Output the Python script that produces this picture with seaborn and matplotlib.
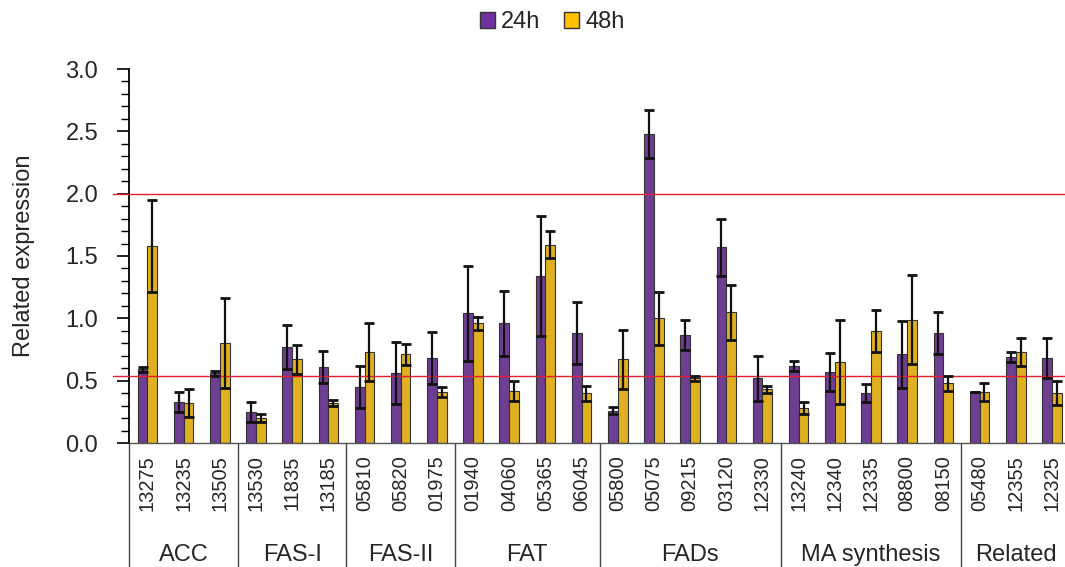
import matplotlib
matplotlib.use("Agg")
import matplotlib.pyplot as plt
import matplotlib.transforms as mtransforms
from matplotlib.patches import Patch
import numpy as np
import pandas as pd
import seaborn as sns

# ─── Data ─────────────────────────────────────────────────────────
genes = ["13275", "13235", "13505", "13530", "11835", "13185",
         "05810", "05820", "01975", "01940", "04060", "05365", "06045",
         "05800", "05075", "09215", "03120", "12330",
         "13240", "12340", "12335", "08800", "08150",
         "05480", "12355", "12325"]
groups = ["ACC", "FAS-I", "FAS-II", "FAT", "FADs", "MA synthesis", "Related"]
group_sizes = [3, 3, 3, 4, 5, 5, 3]

expr_24h = [0.59, 0.33, 0.56, 0.25, 0.77, 0.61, 0.45, 0.56, 0.68, 1.04, 0.96,
            1.34, 0.88, 0.26, 2.48, 0.87, 1.57, 0.52, 0.62, 0.57, 0.40, 0.71,
            0.88, 0.41, 0.69, 0.68]
err_24h = [0.02, 0.08, 0.02, 0.08, 0.18, 0.13, 0.17, 0.25, 0.21, 0.38, 0.26,
           0.48, 0.25, 0.03, 0.19, 0.12, 0.23, 0.18, 0.04, 0.15, 0.07, 0.27,
           0.17, 0.0, 0.04, 0.16]
expr_48h = [1.58, 0.32, 0.80, 0.20, 0.67, 0.32, 0.73, 0.71, 0.41, 0.96, 0.42,
            1.59, 0.40, 0.67, 1.00, 0.52, 1.05, 0.43, 0.28, 0.65, 0.90, 0.99,
            0.48, 0.41, 0.73, 0.40]
err_48h = [0.37, 0.11, 0.36, 0.035, 0.12, 0.025, 0.23, 0.085, 0.04, 0.05, 0.08,
           0.11, 0.06, 0.24, 0.21, 0.02, 0.22, 0.03, 0.045, 0.34, 0.17, 0.36,
           0.06, 0.07, 0.11, 0.095]
ref_lines = [2.0, 0.54]

times = ["24h", "48h"]
colors = {"24h": "#7030A0", "48h": "#FFC000"}

df = pd.DataFrame({
    "gene": genes * 2,
    "time": ["24h"] * len(genes) + ["48h"] * len(genes),
    "value": expr_24h + expr_48h,
})

# ─── Figure ───────────────────────────────────────────────────────
sns.set_style("white")
plt.rcParams["font.family"] = ["Liberation Sans", "DejaVu Sans"]

fig = plt.figure(figsize=(10.65, 5.67), dpi=100)
ax = fig.add_axes([129.4 / 1065, 1 - 443 / 567, (1070 - 129.4) / 1065, (443 - 69) / 567])

sns.barplot(data=df, x="gene", y="value", hue="time", order=genes,
            hue_order=times, palette=colors, width=0.54, errorbar=None,
            edgecolor="#333333", linewidth=0.8, legend=False, ax=ax)

for cont, errs in zip(ax.containers, [err_24h, err_48h]):
    xs = [p.get_x() + p.get_width() / 2 for p in cont.patches]
    ys = [p.get_height() for p in cont.patches]
    ax.errorbar(xs, ys, yerr=errs, fmt="none", ecolor="#111111",
                elinewidth=1.6, capsize=3.3, capthick=2.0, zorder=4)

# red reference lines, running a bit past the y axis
for y in ref_lines:
    ax.axhline(y, xmin=-0.017, xmax=1, color="#E02030", lw=1.0,
               clip_on=False, zorder=3)

ax.set_xlim(-0.5, len(genes) - 0.5)
ax.set_ylim(0, 3.0)
ax.set_yticks(np.arange(0, 3.01, 0.5))
ax.set_yticklabels([f"{v:.1f}" for v in np.arange(0, 3.01, 0.5)], fontsize=17)
ax.set_yticks(np.arange(0, 3.01, 0.1), minor=True)
ax.tick_params(axis="y", which="major", direction="out", length=8.5,
               width=1.2, pad=14, left=True, color="black")
ax.tick_params(axis="y", which="minor", direction="out", length=5.5,
               width=1.0, left=True, color="black")
ax.set_xticks(range(len(genes)))
ax.set_xticklabels(genes, rotation=90, fontsize=14.5)
ax.tick_params(axis="x", length=0, pad=9)

ax.set_xlabel("")
ax.set_ylabel("Related expression", fontsize=17, labelpad=22)

for side in ["top", "right"]:
    ax.spines[side].set_visible(False)
ax.spines["left"].set_color("black")
ax.spines["left"].set_linewidth(1.3)
ax.spines["bottom"].set_color("#555555")
ax.spines["bottom"].set_linewidth(1.0)

# group separators and labels under the axis
trans = mtransforms.blended_transform_factory(ax.transData, ax.transAxes)
edges = np.concatenate([[0], np.cumsum(group_sizes)]) - 0.5
for e in edges[:-1]:
    ax.plot([e, e], [0, -0.34], transform=trans, color="#444444", lw=1.0,
            clip_on=False)
for name, lo, hi in zip(groups, edges[:-1], edges[1:]):
    ax.text((lo + hi) / 2, -0.30, name, transform=trans, ha="center",
            va="center", fontsize=17)

handles = [Patch(facecolor=colors[t], edgecolor="#333333", label=t) for t in times]
fig.legend(handles=handles, loc="center", bbox_to_anchor=(552 / 1065, 1 - 22 / 567),
           ncol=2, frameon=False, fontsize=17, handlelength=0.65,
           handleheight=0.65, handletextpad=0.25, columnspacing=1.0)

fig.savefig("out.png", dpi=100)
